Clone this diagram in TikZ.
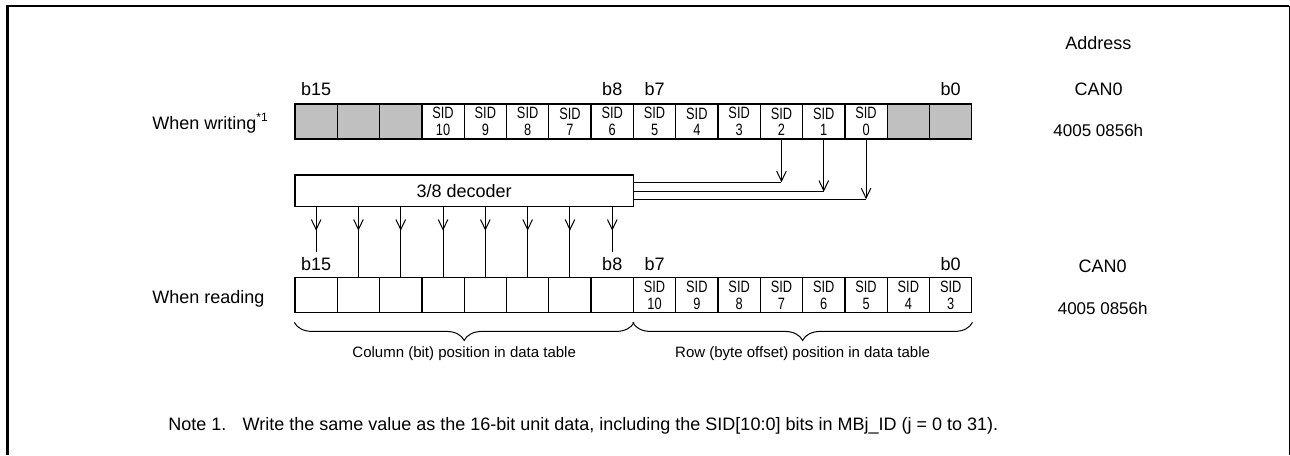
\documentclass[tikz,border=0pt]{standalone}
\usepackage{fontspec}
\setmainfont{Liberation Sans}
\usetikzlibrary{positioning,arrows.meta,decorations.pathreplacing}
\definecolor{unused}{RGB}{192,192,192}
\newcommand{\lblsize}{\fontsize{9}{11}\selectfont}
\newcommand{\addrsize}{\fontsize{8.5}{10}\selectfont}
\newcommand{\bracesize}{\fontsize{7.5}{9}\selectfont}
\newcommand{\cellsize}{\fontsize{8.2}{8.2}\selectfont}
\newcommand{\narrow}[1]{\scalebox{0.78}[1]{#1}}
\tikzset{
  bitcell/.style={draw, line width=0.65pt, minimum width=21.15pt, minimum height=17.5pt,
                  inner sep=0pt, align=center, font=\cellsize},
  rsvd/.style={bitcell, fill=unused},
  decbox/.style={draw, line width=0.65pt, minimum width=169.2pt, minimum height=15.85pt,
                 inner sep=0pt, font=\lblsize},
  bitlbl/.style={font=\lblsize, inner sep=0pt},
  rowlbl/.style={font=\lblsize, inner sep=0pt, anchor=base west},
  addr/.style={font=\lblsize, inner sep=0pt},
  flow/.style={-{Straight Barb[length=5pt,width=4.8pt]}, line width=0.5pt},
  wire/.style={line width=0.5pt},
  brc/.style={decorate, decoration={brace, mirror, amplitude=9pt}, line width=0.5pt},
  brlbl/.style={font=\bracesize, inner sep=0pt},
}

\begin{document}
\begin{tikzpicture}[x=0.5pt, y=-0.5pt]
  \useasboundingbox (0,0) rectangle (1290,455);

  % frame
  \draw[line width=1.25pt] (7.3,455) -- (7.3,6.2) -- (1289.2,6.2);
  \draw[line width=0.5pt] (1289.2,6.2) -- (1289.2,455);

  % address column
  \node[addr] (addrhd) at (1098.3,43) {Address};
  \node[addr] (wcan) at (1098.5,89.5) {CAN0};
  \node[addr, font=\addrsize] (wadr) at (1098.3,130.5) {4005 0856h};
  \node[addr] (rcan) at (1102.5,266.5) {CAN0};
  \node[addr, font=\addrsize] (radr) at (1102.7,308.5) {4005 0856h};

  % register when writing
  \node[rowlbl] (wlbl) at (152,129.5) {When writing\textsuperscript{*1}};
  \foreach \i in {0,1,2,14,15}
    \node[rsvd] (w\i) at ({316.15+42.3*\i},121.5) {};
  \foreach \i in {3,...,13} {
    \pgfmathtruncatemacro{\bitno}{13-\i}
    \node[bitcell] (w\i) at ({316.15+42.3*\i},121.5) {\narrow{SID}\\\narrow{\bitno}};
  }
  \node[bitlbl, above=3.5pt of w0] (wb15) {b15};
  \node[bitlbl, above=3.5pt of w7] (wb8) {b8};
  \node[bitlbl, above=3.5pt of w8] (wb7) {b7};
  \node[bitlbl, above=3.5pt of w15] (wb0) {b0};

  % decoder and its inputs
  \node[decbox] (dec) at (464.2,190.85) {3/8 decoder};
  \coordinate (in2) at ([yshift=4.3pt]dec.east);
  \coordinate (in1) at ([yshift=-0.4pt]dec.east);
  \coordinate (in0) at ([yshift=-4.2pt]dec.east);
  \draw[wire] (in2) -- (in2 -| w11);
  \draw[wire] (in1) -- (in1 -| w12);
  \draw[wire] (in0) -- (in0 -| w13);
  \draw[flow] (w11.south) -- (in2 -| w11);
  \draw[flow] (w12.south) -- (in1 -| w12);
  \draw[flow] (w13.south) -- (in0 -| w13);

  % register when reading
  \node[rowlbl] (rlbl) at (152,303.3) {When reading};
  \foreach \i in {0,...,7}
    \node[bitcell] (r\i) at ({316.15+42.3*\i},295.25) {};
  \foreach \i in {8,...,15} {
    \pgfmathtruncatemacro{\bitno}{18-\i}
    \node[bitcell] (r\i) at ({316.15+42.3*\i},295.25) {\narrow{SID}\\\narrow{\bitno}};
  }
  \node[bitlbl, above=3pt of r0] (rb15) {b15};
  \node[bitlbl, above=3pt of r7] (rb8) {b8};
  \node[bitlbl, above=3pt of r8] (rb7) {b7};
  \node[bitlbl, above=3pt of r15] (rb0) {b0};

  % decoder outputs
  \foreach \i in {0,...,7}
    \draw[flow] (dec.south -| r\i) -- ++(0,23.3);
  \foreach \i in {1,...,6}
    \draw[wire] (dec.south -| r\i) -- (r\i.north);
  \draw[wire] (dec.south -| r0) -- ++(0,45);
  \draw[wire] (dec.south -| r7) -- ++(0,45);

  % braces
  \draw[brc] ([yshift=-4.5pt]r0.south west) -- node[brlbl, below=12pt] (colpos)
    {Column (bit) position in data table} ([yshift=-4.5pt]r7.south east);
  \draw[brc] ([yshift=-4.5pt]r8.south west) -- node[brlbl, below=12pt] (rowpos)
    {Row (byte offset) position in data table} ([yshift=-4.5pt]r15.south east);

  % note
  \node[rowlbl] (note) at (168,430) {Note 1.\hspace{0.9em}Write the same value as the 16-bit unit data, including the SID[10:0] bits in MBj\_ID (j = 0 to 31).};

\end{tikzpicture}
\end{document}
